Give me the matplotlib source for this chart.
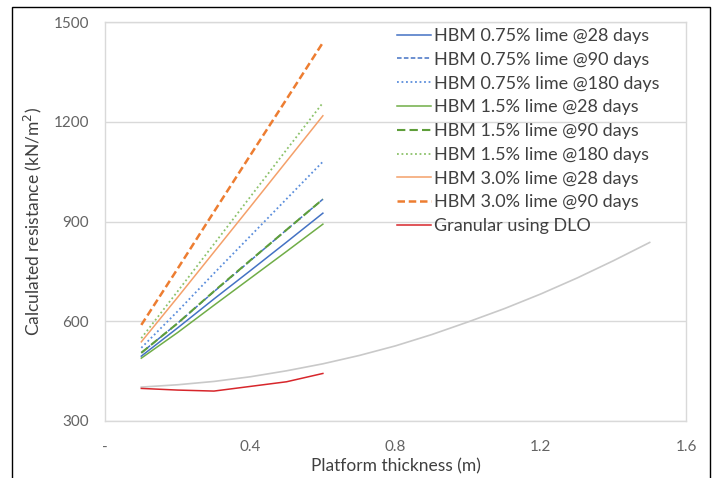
import matplotlib
matplotlib.use("Agg")
import matplotlib.pyplot as plt
from matplotlib.patches import Rectangle

plt.rcParams['font.family'] = ['Lato', 'DejaVu Sans']

# ---- data ----
x_hbm = [0.1, 0.2, 0.3, 0.4, 0.5, 0.6]
hbm075_28 = [495, 580, 667, 752, 838, 925]
hbm075_90 = [505, 594, 689, 782, 875, 967]
hbm075_180 = [520, 630, 744, 856, 968, 1080]
hbm15_28 = [489, 566, 648, 729, 810, 892]
hbm15_90 = [505, 594, 690, 783, 875, 967]
hbm15_180 = [549, 690, 832, 974, 1116, 1257]
hbm30_28 = [538, 672, 808, 944, 1081, 1218]
hbm30_90 = [589, 758, 929, 1099, 1268, 1438]

x_dlo = [0.1, 0.2, 0.3, 0.4, 0.5, 0.6]
granular_dlo = [398, 393, 390, 404, 418, 443]

x_gray = [0.1, 0.2, 0.3, 0.4, 0.5, 0.6, 0.7, 0.8, 0.9, 1.0, 1.1, 1.2, 1.3, 1.4, 1.5]
gray_curve = [402, 409, 419, 433, 451, 472, 497, 526, 560, 598, 638, 682, 730, 782, 837]

x_ticks = [0, 0.4, 0.8, 1.2, 1.6]
x_ticklabels = ['-', '0.4', '0.8', '1.2', '1.6']
y_ticks = [300, 600, 900, 1200, 1500]

W, H = 715, 478
fig = plt.figure(figsize=(W / 100, H / 100), dpi=100)
ax = fig.add_axes([105 / W, 1 - 421 / H, (686 - 105) / W, (421 - 22) / H])

ax.plot(x_gray, gray_curve, color='#C9C9C9', lw=1.2, label='_nolegend_')

ax.plot(x_hbm, hbm075_28, color='#4472C4', lw=1.1, label='HBM 0.75% lime @28 days')
ax.plot(x_hbm, hbm075_90, color='#4472C4', lw=1.1, ls=(0, (3, 1.5)), label='HBM 0.75% lime @90 days')
ax.plot(x_hbm, hbm075_180, color='#5B8EDC', lw=1.3, ls=(0, (1, 1.5)), label='HBM 0.75% lime @180 days')
ax.plot(x_hbm, hbm15_28, color='#70AD47', lw=1.1, label='HBM 1.5% lime @28 days')
ax.plot(x_hbm, hbm15_90, color='#5E9E3A', lw=1.5, ls=(0, (4, 2)), label='HBM 1.5% lime @90 days')
ax.plot(x_hbm, hbm15_180, color='#8CC26A', lw=1.3, ls=(0, (1, 1.5)), label='HBM 1.5% lime @180 days')
ax.plot(x_hbm, hbm30_28, color='#F4A06A', lw=1.1, label='HBM 3.0% lime @28 days')
ax.plot(x_hbm, hbm30_90, color='#ED7D31', lw=1.8, ls=(0, (3, 1.5)), label='HBM 3.0% lime @90 days')
ax.plot(x_dlo, granular_dlo, color='#D7262B', lw=1.1, label='Granular using DLO')

ax.set_xlim(0, 1.6)
ax.set_ylim(300, 1500)
ax.set_xticks(x_ticks)
ax.set_xticklabels(x_ticklabels)
ax.set_yticks(y_ticks)
ax.tick_params(length=0, colors='#636363', labelsize=11)
ax.tick_params(axis='x', pad=14)
ax.tick_params(axis='y', pad=11.5)
ax.grid(axis='y', color='#D9D9D9', lw=1)
ax.set_axisbelow(True)
for s in ax.spines.values():
    s.set_color('#D9D9D9')
    s.set_linewidth(1)

ax.set_xlabel('Platform thickness (m)', fontsize=12.5, color='#404040', labelpad=3)
ax.set_ylabel('Calculated resistance (kN/m$^2$)', fontsize=12.5, color='#404040', labelpad=7)

leg = ax.legend(loc='upper left', bbox_to_anchor=((386 - 105) / (686 - 105), 1.012),
                frameon=False, fontsize=13, handlelength=1.9, handletextpad=0.15,
                labelspacing=0.43, borderaxespad=0.2)
for t in leg.get_texts():
    t.set_color('#404040')

fig.patches.append(Rectangle((12 / W, -0.1), (710 - 12) / W, 1.1 - 7 / H,
                             transform=fig.transFigure, fill=False,
                             edgecolor='black', lw=1.0))

fig.savefig('out.png', dpi=100)
